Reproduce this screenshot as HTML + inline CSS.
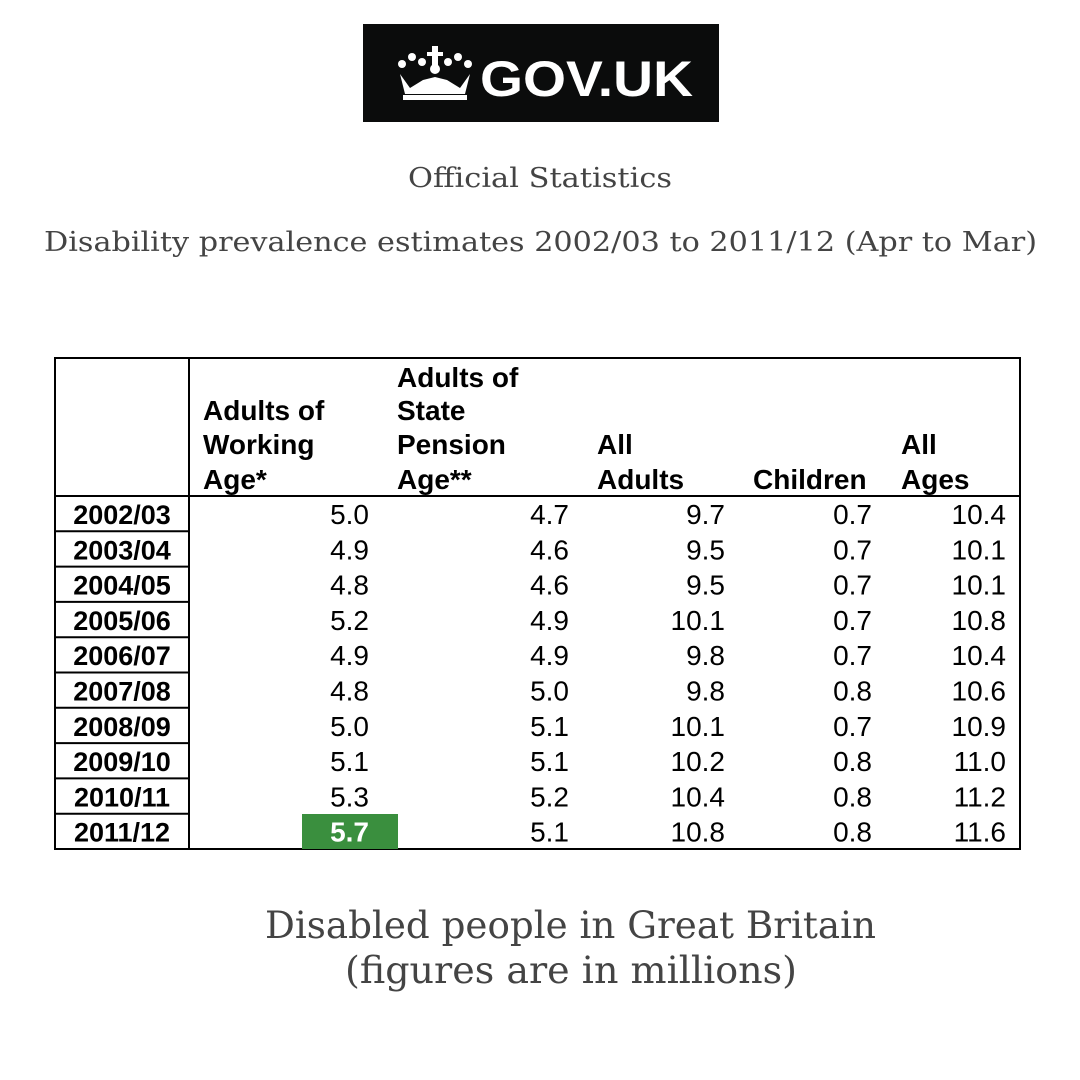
<!DOCTYPE html>
<html><head><meta charset="utf-8"><style>html,body{margin:0;padding:0;background:#fff}svg{display:block}</style></head>
<body>
<svg width="1080" height="1080" viewBox="0 0 1080 1080" xmlns="http://www.w3.org/2000/svg">
<rect width="1080" height="1080" fill="#fff"/>
<rect x="363" y="24" width="356" height="98" fill="#0b0c0c"/>
<g fill="#fff">
<circle cx="402" cy="64" r="4"/><circle cx="412" cy="57" r="4"/><circle cx="422" cy="62" r="4"/>
<circle cx="448" cy="62" r="4"/><circle cx="458" cy="57" r="4"/><circle cx="468" cy="64" r="4"/>
<rect x="432" y="46" width="6" height="20"/><rect x="427" y="52" width="16" height="4"/>
<circle cx="435" cy="69" r="5"/>
<path d="M400 74 L410 88 L423 80 L435 77 L447 80 L460 88 L470 74 L465 94 L405 94 Z"/>
<rect x="403" y="95" width="64" height="5"/>
<text x="480" y="96" font-family="Liberation Sans, sans-serif" font-weight="bold" font-size="50" textLength="213" lengthAdjust="spacingAndGlyphs">GOV.UK</text>
</g>
<g font-family="DejaVu Serif, Liberation Serif, serif" fill="#444">
<text x="408" y="187" font-size="27" textLength="264" lengthAdjust="spacingAndGlyphs">Official Statistics</text>
<text x="44" y="251" font-size="27" textLength="993" lengthAdjust="spacingAndGlyphs">Disability prevalence estimates 2002/03 to 2011/12 (Apr to Mar)</text>
<text x="265" y="938" font-size="37" textLength="611" lengthAdjust="spacingAndGlyphs">Disabled people in Great Britain</text>
<text x="345" y="983" font-size="37" textLength="452" lengthAdjust="spacingAndGlyphs">(figures are in millions)</text>
</g>
<g stroke="#000" stroke-width="2" fill="none">
<rect x="55" y="358" width="965" height="491"/>
<line x1="189" y1="358" x2="189" y2="849"/>
<line x1="55" y1="496" x2="1020" y2="496"/>
<line x1="55" y1="531.3" x2="189" y2="531.3"/>
<line x1="55" y1="566.6" x2="189" y2="566.6"/>
<line x1="55" y1="601.9" x2="189" y2="601.9"/>
<line x1="55" y1="637.2" x2="189" y2="637.2"/>
<line x1="55" y1="672.5" x2="189" y2="672.5"/>
<line x1="55" y1="707.8" x2="189" y2="707.8"/>
<line x1="55" y1="743.1" x2="189" y2="743.1"/>
<line x1="55" y1="778.4" x2="189" y2="778.4"/>
<line x1="55" y1="813.7" x2="189" y2="813.7"/>
</g>
<rect x="302" y="814" width="96" height="35" fill="#3a8f3e"/>
<g font-family="Liberation Sans, Arial, sans-serif" font-size="28" font-weight="bold" fill="#000">
<text x="203" y="420">Adults of</text><text x="203" y="454">Working</text><text x="203" y="489">Age*</text>
<text x="397" y="387">Adults of</text><text x="397" y="420">State</text><text x="397" y="454">Pension</text><text x="397" y="489">Age**</text>
<text x="597" y="454">All</text><text x="597" y="489">Adults</text>
<text x="753" y="489">Children</text>
<text x="901" y="454">All</text><text x="901" y="489">Ages</text>
<g text-anchor="middle" font-size="27">
<text x="122" y="524">2002/03</text><text x="122" y="559.3">2003/04</text><text x="122" y="594.6">2004/05</text>
<text x="122" y="629.9">2005/06</text><text x="122" y="665.2">2006/07</text><text x="122" y="700.5">2007/08</text>
<text x="122" y="735.8">2008/09</text><text x="122" y="771.1">2009/10</text><text x="122" y="806.4">2010/11</text>
<text x="122" y="841.7">2011/12</text>
</g>
</g>
<g font-family="Liberation Sans, Arial, sans-serif" font-size="28" fill="#000" text-anchor="end">
<g transform="translate(369,0)"><text y="524">5.0</text><text y="559.3">4.9</text><text y="594.6">4.8</text><text y="629.9">5.2</text><text y="665.2">4.9</text><text y="700.5">4.8</text><text y="735.8">5.0</text><text y="771.1">5.1</text><text y="806.4">5.3</text><text y="841.7" fill="#fff" font-weight="bold">5.7</text></g>
<g transform="translate(569,0)"><text y="524">4.7</text><text y="559.3">4.6</text><text y="594.6">4.6</text><text y="629.9">4.9</text><text y="665.2">4.9</text><text y="700.5">5.0</text><text y="735.8">5.1</text><text y="771.1">5.1</text><text y="806.4">5.2</text><text y="841.7">5.1</text></g>
<g transform="translate(725,0)"><text y="524">9.7</text><text y="559.3">9.5</text><text y="594.6">9.5</text><text y="629.9">10.1</text><text y="665.2">9.8</text><text y="700.5">9.8</text><text y="735.8">10.1</text><text y="771.1">10.2</text><text y="806.4">10.4</text><text y="841.7">10.8</text></g>
<g transform="translate(872,0)"><text y="524">0.7</text><text y="559.3">0.7</text><text y="594.6">0.7</text><text y="629.9">0.7</text><text y="665.2">0.7</text><text y="700.5">0.8</text><text y="735.8">0.7</text><text y="771.1">0.8</text><text y="806.4">0.8</text><text y="841.7">0.8</text></g>
<g transform="translate(1006,0)"><text y="524">10.4</text><text y="559.3">10.1</text><text y="594.6">10.1</text><text y="629.9">10.8</text><text y="665.2">10.4</text><text y="700.5">10.6</text><text y="735.8">10.9</text><text y="771.1">11.0</text><text y="806.4">11.2</text><text y="841.7">11.6</text></g>
</g>
</svg>
</body></html>
